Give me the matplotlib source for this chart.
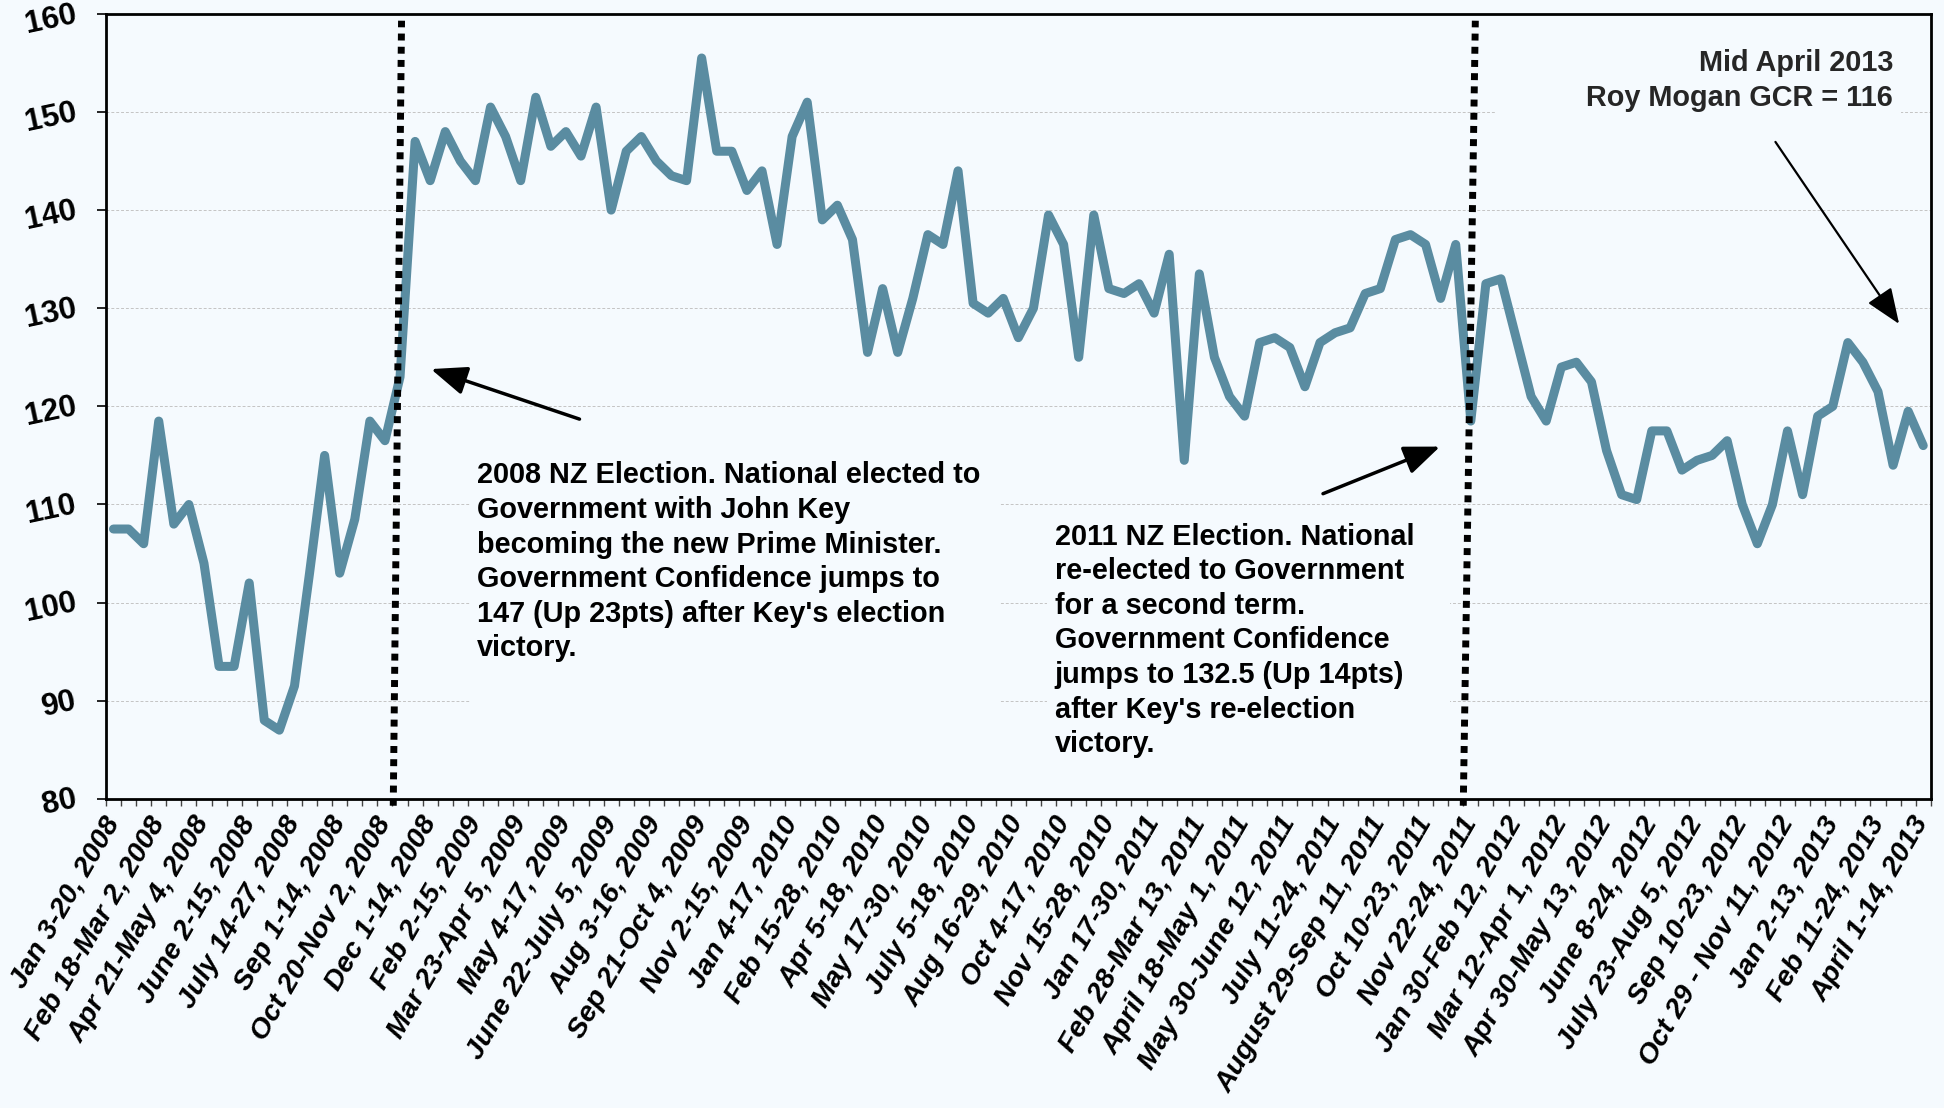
import numpy as np
import matplotlib
matplotlib.use("Agg")
import matplotlib.pyplot as plt
from matplotlib.patches import Rectangle

# Roy Morgan NZ Government Confidence Rating, fortnightly surveys Jan 2008 - Apr 2013
gcr_2008 = [107.5, 107.5, 106, 118.5, 108, 110, 104, 93.5, 93.5, 102,
            88, 87, 91.5, 103, 115, 103, 108.5, 118.5, 116.5, 123, 147]
gcr_2009 = [143, 148, 145, 143, 150.5, 147.5, 143, 151.5, 146.5, 148,
            145.5, 150.5, 140, 146, 147.5, 145, 143.5, 143, 155.5, 146]
gcr_2010 = [146, 142, 144, 136.5, 147.5, 151, 139, 140.5, 137, 125.5,
            132, 125.5, 131, 137.5, 136.5, 144, 130.5, 129.5, 131, 127]
gcr_2011 = [130, 139.5, 136.5, 125, 139.5, 132, 131.5, 132.5, 129.5, 135.5,
            114.5, 133.5, 125, 121, 119, 126.5, 127, 126, 122, 126.5]
gcr_2012 = [127.5, 128, 131.5, 132, 137, 137.5, 136.5, 131, 136.5, 118.5,
            132.5, 133, 127, 121, 118.5, 124, 124.5, 122.5, 115.5, 111]
gcr_2013 = [110.5, 117.5, 117.5, 113.5, 114.5, 115, 116.5, 110, 106, 110,
            117.5, 111, 119, 120, 126.5, 124.5, 121.5, 114, 119.5, 116]
gcr = gcr_2008 + gcr_2009 + gcr_2010 + gcr_2011 + gcr_2012 + gcr_2013

tick_labels = ["Jan 3-20, 2008", "Feb 18-Mar 2, 2008", "Apr 21-May 4, 2008",
               "June 2-15, 2008", "July 14-27, 2008", "Sep 1-14, 2008",
               "Oct 20-Nov 2, 2008", "Dec 1-14, 2008", "Feb 2-15, 2009",
               "Mar 23-Apr 5, 2009", "May 4-17, 2009", "June 22-July 5, 2009",
               "Aug 3-16, 2009", "Sep 21-Oct 4, 2009", "Nov 2-15, 2009",
               "Jan 4-17, 2010", "Feb 15-28, 2010", "Apr 5-18, 2010",
               "May 17-30, 2010", "July 5-18, 2010", "Aug 16-29, 2010",
               "Oct 4-17, 2010", "Nov 15-28, 2010", "Jan 17-30, 2011",
               "Feb 28-Mar 13, 2011", "April 18-May 1, 2011", "May 30-June 12, 2011",
               "July 11-24, 2011", "August 29-Sep 11, 2011", "Oct 10-23, 2011",
               "Nov 22-24, 2011", "Jan 30-Feb 12, 2012", "Mar 12-Apr 1, 2012",
               "Apr 30-May 13, 2012", "June 8-24, 2012", "July 23-Aug 5, 2012",
               "Sep 10-23, 2012", "Oct 29 - Nov 11, 2012", "Jan 2-13, 2013",
               "Feb 11-24, 2013", "April 1-14, 2013"]
label_every = 3

# election markers (bottom x, top x) in survey index units
elections = [(18.55, 19.1), (89.5, 90.3)]

BG = '#F5FAFE'
LINE = '#5A8CA1'
plt.rcParams['font.family'] = ['Liberation Sans', 'DejaVu Sans']
plt.rcParams['font.weight'] = 'bold'

fig = plt.figure(figsize=(19.44, 11.08), dpi=100, facecolor=BG)
ax = fig.add_axes([0.0545, 0.279, 0.9387, 0.7085], facecolor=BG)

x = np.arange(len(gcr))
ax.plot(x, gcr, color=LINE, lw=6.5, solid_joinstyle='round',
        solid_capstyle='round', zorder=3)

for x0, x1 in elections:
    ax.plot([x0, x1], [79.3, 159.3], color='black', lw=5,
            linestyle=(0, (1, 0.9)), zorder=4, clip_on=False)

ax.set_xlim(-0.5, len(gcr) - 0.5)
ax.set_ylim(80, 160)
ax.set_yticks(range(80, 161, 10))
ax.set_yticklabels([str(v) for v in range(80, 161, 10)], fontsize=22.5,
                   fontweight='bold', rotation=12, rotation_mode='anchor',
                   ha='right', va='center')
ax.tick_params(axis='y', length=6.5, width=1.2, pad=15)

ax.set_xticks(x[::label_every])
ax.set_xticklabels(tick_labels, fontsize=20.5, fontweight='bold',
                   fontstyle='italic', rotation=60, rotation_mode='anchor',
                   ha='right', va='center')
ax.tick_params(axis='x', which='major', length=0, pad=14)
ax.set_xticks(np.arange(-0.5, len(gcr), 1), minor=True)
ax.tick_params(axis='x', which='minor', length=5, width=1, color='#444444')

ax.grid(axis='y', color='#C4C4C4', lw=0.7, linestyle=(0, (3, 2)))
ax.set_axisbelow(True)
for s in ax.spines.values():
    s.set_linewidth(2)
    s.set_color('black')

# text boxes hide the gridlines behind them
for (bx, by, bw, bh) in [(23.7, 85, 35.1, 33.5), (61.9, 85, 26.7, 23.5),
                         (91.7, 148, 26.8, 10)]:
    ax.add_patch(Rectangle((bx, by), bw, bh, facecolor=BG, edgecolor='none',
                           zorder=1))

ax.text(24.1, 114.4,
        "2008 NZ Election. National elected to\nGovernment with John Key\n"
        "becoming the new Prime Minister.\nGovernment Confidence jumps to\n"
        "147 (Up 23pts) after Key's election\nvictory.",
        fontsize=20.8, fontweight='bold', va='top', ha='left',
        linespacing=1.3, zorder=5)
ax.text(62.4, 108.15,
        "2011 NZ Election. National\nre-elected to Government\n"
        "for a second term.\nGovernment Confidence\n"
        "jumps to 132.5 (Up 14pts)\nafter Key's re-election\nvictory.",
        fontsize=20.8, fontweight='bold', va='top', ha='left',
        linespacing=1.3, zorder=5)
ax.text(118.0, 156.4, "Mid April 2013\nRoy Mogan GCR = 116",
        fontsize=20.8, fontweight='bold', va='top', ha='right',
        color='#262626', linespacing=1.3, zorder=5)

head = '-|>,head_length=1.0,head_width=0.4'
ax.annotate('', xy=(21.05, 123.8), xytext=(30.9, 118.7),
            arrowprops=dict(arrowstyle=head, color='black', lw=2.5,
                            mutation_scale=22, shrinkA=0, shrinkB=0), zorder=5)
ax.annotate('', xy=(87.96, 115.9), xytext=(80.2, 111.1),
            arrowprops=dict(arrowstyle=head, color='black', lw=2.5,
                            mutation_scale=22, shrinkA=0, shrinkB=0), zorder=5)
ax.annotate('', xy=(118.4, 128.4), xytext=(110.2, 146.95),
            arrowprops=dict(arrowstyle=head, color='black', lw=1.6,
                            mutation_scale=22, shrinkA=0, shrinkB=0), zorder=5)

fig.savefig('out.png', dpi=100, facecolor=BG)
